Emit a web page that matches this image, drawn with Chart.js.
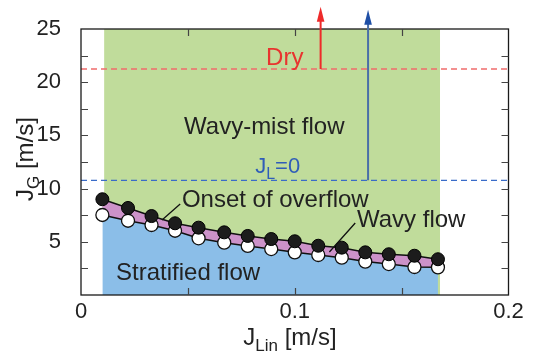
<!DOCTYPE html>
<html>
<head>
<meta charset="utf-8">
<script src="https://cdn.jsdelivr.net/npm/chart.js@4.4.0/dist/chart.umd.min.js"></script>
<style>
  html, body { margin: 0; padding: 0; background: #fff; }
  #map { display: block; }
</style>
</head>
<body>
<canvas id="map" width="533" height="354"></canvas>
<script>
/* flow regime map data */
const liquidJ = [0.010, 0.022, 0.033, 0.044, 0.055, 0.067, 0.078, 0.089, 0.100, 0.111, 0.122, 0.133, 0.144, 0.156, 0.167];
const onsetJG = [9.0, 8.18, 7.42, 6.74, 6.33, 5.89, 5.55, 5.26, 5.05, 4.63, 4.45, 4.01, 3.83, 3.69, 3.36];
const wavyJG  = [7.52, 6.98, 6.58, 6.04, 5.33, 4.92, 4.61, 4.32, 4.01, 3.76, 3.51, 3.14, 2.91, 2.63, 2.60];
const mistRangeJ = [0.0108, 0.168];
const mistTopJG = 25;
const dryJG = 21.24;
const zeroLiquidJG = 10.78;

// vertical arrows: [x, from, to]
const dryArrow = [0.1121, 21.24, 27.1];
const zeroArrow = [0.1343, 10.78, 26.8];

const xTickLabels = ['0', '', '0.1', '', '0.2'];
const yTickLabels = ['', '', '5', '', '10', '', '15', '', '20', '', '25'];

// text labels: [text, subscript, rest, x, baseline y, colour]
const regimeLabels = [
  ['Dry', '', '', 0.0866, 21.62, '#e8342f'],
  ['Wavy-mist flow', '', '', 0.0482, 15.10, '#222'],
  ['J', 'L', '=0', 0.0815, 11.44, '#2f5db8'],
  ['Onset of overflow', '', '', 0.0472, 8.30, '#222'],
  ['Wavy flow', '', '', 0.1291, 6.42, '#222'],
  ['Stratified flow', '', '', 0.0164, 1.41, '#222']
];
// leader lines: [x1, y1, x2, y2]
const leaders = [
  [0.0464, 8.55, 0.0379, 7.05],
  [0.1283, 6.77, 0.1162, 4.04]
];

const FONT = '"Liberation Sans", Arial, sans-serif';

function pts(xs, ys) {
  return xs.map((x, i) => ({ x, y: ys[i] }));
}

function drawSubText(ctx, main, sub, rest, x, y, size) {
  ctx.font = size + 'px ' + FONT;
  ctx.fillText(main, x, y);
  x += ctx.measureText(main).width;
  if (sub) {
    const s = Math.round(size * 0.72);
    ctx.font = s + 'px ' + FONT;
    ctx.fillText(sub, x, y + size * 0.26);
    x += ctx.measureText(sub).width;
  }
  if (rest) {
    ctx.font = size + 'px ' + FONT;
    ctx.fillText(rest, x, y);
  }
}

function subTextWidth(ctx, main, sub, rest, size) {
  ctx.font = size + 'px ' + FONT;
  let w = ctx.measureText(main).width + ctx.measureText(rest).width;
  ctx.font = Math.round(size * 0.72) + 'px ' + FONT;
  return w + ctx.measureText(sub).width;
}

const decor = {
  id: 'decor',
  afterDatasetsDraw(chart) {
    const ctx = chart.ctx;
    const xs = chart.scales.x, ys = chart.scales.y;
    const a = chart.chartArea;
    ctx.save();

    // frame
    ctx.strokeStyle = '#1a1a1a';
    ctx.lineWidth = 1.3;
    ctx.strokeRect(a.left, a.top, a.right - a.left, a.bottom - a.top);

    // inward ticks on all four sides
    ctx.strokeStyle = '#444';
    ctx.lineWidth = 1.2;
    ctx.beginPath();
    xs.ticks.forEach((t, i) => {
      if (i === 0 || i === xs.ticks.length - 1) return;
      const px = Math.round(xs.getPixelForValue(t.value)) + 0.5;
      ctx.moveTo(px, a.bottom); ctx.lineTo(px, a.bottom - 7);
      ctx.moveTo(px, a.top); ctx.lineTo(px, a.top + 7);
    });
    ys.ticks.forEach((t, i) => {
      if (i === 0 || i === ys.ticks.length - 1) return;
      const py = Math.round(ys.getPixelForValue(t.value)) + 0.5;
      ctx.moveTo(a.left, py); ctx.lineTo(a.left + 7, py);
      ctx.moveTo(a.right, py); ctx.lineTo(a.right - 7, py);
    });
    ctx.stroke();

    // arrows
    [[dryArrow, '#ee2a2a', '#ee2a2a'], [zeroArrow, '#4a6fa8', '#1f4fa6']].forEach(([ar, shaft, head]) => {
      const px = xs.getPixelForValue(ar[0]);
      const y0 = ys.getPixelForValue(ar[1]);
      const y1 = ys.getPixelForValue(ar[2]);
      ctx.strokeStyle = shaft;
      ctx.lineWidth = 2;
      ctx.beginPath();
      ctx.moveTo(px, y0); ctx.lineTo(px, y1 + 10);
      ctx.stroke();
      ctx.fillStyle = head;
      ctx.beginPath();
      ctx.moveTo(px, y1);
      ctx.lineTo(px - 3.8, y1 + 15);
      ctx.lineTo(px + 3.8, y1 + 15);
      ctx.closePath();
      ctx.fill();
    });

    // leader lines
    ctx.strokeStyle = '#111';
    ctx.lineWidth = 1.3;
    ctx.beginPath();
    leaders.forEach(l => {
      ctx.moveTo(xs.getPixelForValue(l[0]), ys.getPixelForValue(l[1]));
      ctx.lineTo(xs.getPixelForValue(l[2]), ys.getPixelForValue(l[3]));
    });
    ctx.stroke();

    // regime labels
    ctx.textBaseline = 'alphabetic';
    ctx.textAlign = 'left';
    regimeLabels.forEach(([main, sub, rest, x, y, col]) => {
      ctx.fillStyle = col;
      drawSubText(ctx, main, sub, rest, xs.getPixelForValue(x), ys.getPixelForValue(y), sub ? 22 : 24);
    });

    // axis titles
    ctx.fillStyle = '#222';
    const wx = subTextWidth(ctx, 'J', 'Lin', ' [m/s]', 24);
    drawSubText(ctx, 'J', 'Lin', ' [m/s]', 290 - wx / 2, chart.height - 9, 24);
    const wy = subTextWidth(ctx, 'J', 'G', ' [m/s]', 24);
    ctx.translate(33, (a.top + a.bottom) / 2 - 3);
    ctx.rotate(-Math.PI / 2);
    drawSubText(ctx, 'J', 'G', ' [m/s]', -wy / 2, 0, 24);

    ctx.restore();
  }
};

new Chart(document.getElementById('map'), {
  type: 'line',
  data: {
    datasets: [
      {
        label: 'Onset of overflow',
        data: pts(liquidJ, onsetJG),
        borderColor: '#111',
        borderWidth: 1.5,
        backgroundColor: '#cc92c9',
        fill: 1,
        pointRadius: 6.5,
        pointBackgroundColor: '#1c1c1c',
        pointBorderColor: '#000',
        pointBorderWidth: 1
      },
      {
        label: 'Wavy flow',
        data: pts(liquidJ, wavyJG),
        borderColor: '#111',
        borderWidth: 1.5,
        backgroundColor: '#8bbee8',
        fill: 'origin',
        pointRadius: 6.5,
        pointBackgroundColor: '#fff',
        pointBorderColor: '#111',
        pointBorderWidth: 1.3
      },
      {
        label: 'Dry',
        data: [{ x: 0, y: dryJG }, { x: 0.2, y: dryJG }],
        borderColor: '#f06c6c',
        borderWidth: 1.3,
        borderDash: [6, 4],
        pointRadius: 0,
        fill: false
      },
      {
        label: 'JL=0',
        data: [{ x: 0, y: zeroLiquidJG }, { x: 0.2, y: zeroLiquidJG }],
        borderColor: '#3a6cc8',
        borderWidth: 1.3,
        borderDash: [6, 4],
        pointRadius: 0,
        fill: false
      },
      {
        label: 'Wavy-mist flow',
        data: [{ x: mistRangeJ[0], y: mistTopJG }, { x: mistRangeJ[1], y: mistTopJG }],
        borderColor: 'rgba(0,0,0,0)',
        borderWidth: 0,
        backgroundColor: '#c0dc9b',
        fill: 'origin',
        pointRadius: 0
      }
    ]
  },
  options: {
    responsive: false,
    animation: false,
    devicePixelRatio: 1,
    layout: { padding: { top: 29, right: 24.5, left: 0, bottom: 0 } },
    plugins: {
      legend: { display: false },
      tooltip: { enabled: false },
      filler: { drawTime: 'beforeDatasetsDraw' }
    },
    scales: {
      x: {
        type: 'linear',
        min: 0,
        max: 0.2,
        grid: { display: false },
        border: { display: false },
        ticks: {
          stepSize: 0.05,
          autoSkip: false,
          maxRotation: 0,
          padding: -4,
          color: '#222',
          font: { family: FONT, size: 22 },
          callback: (v, i) => xTickLabels[i]
        },
        afterFit: s => { s.height = 59; }
      },
      y: {
        min: 0,
        max: 25,
        grid: { display: false },
        border: { display: false },
        ticks: {
          stepSize: 2.5,
          autoSkip: false,
          padding: 12,
          color: '#222',
          font: { family: FONT, size: 22 },
          callback: (v, i) => yTickLabels[i]
        },
        afterFit: s => { s.width = 81; }
      }
    }
  },
  plugins: [decor]
});
</script>
</body>
</html>
